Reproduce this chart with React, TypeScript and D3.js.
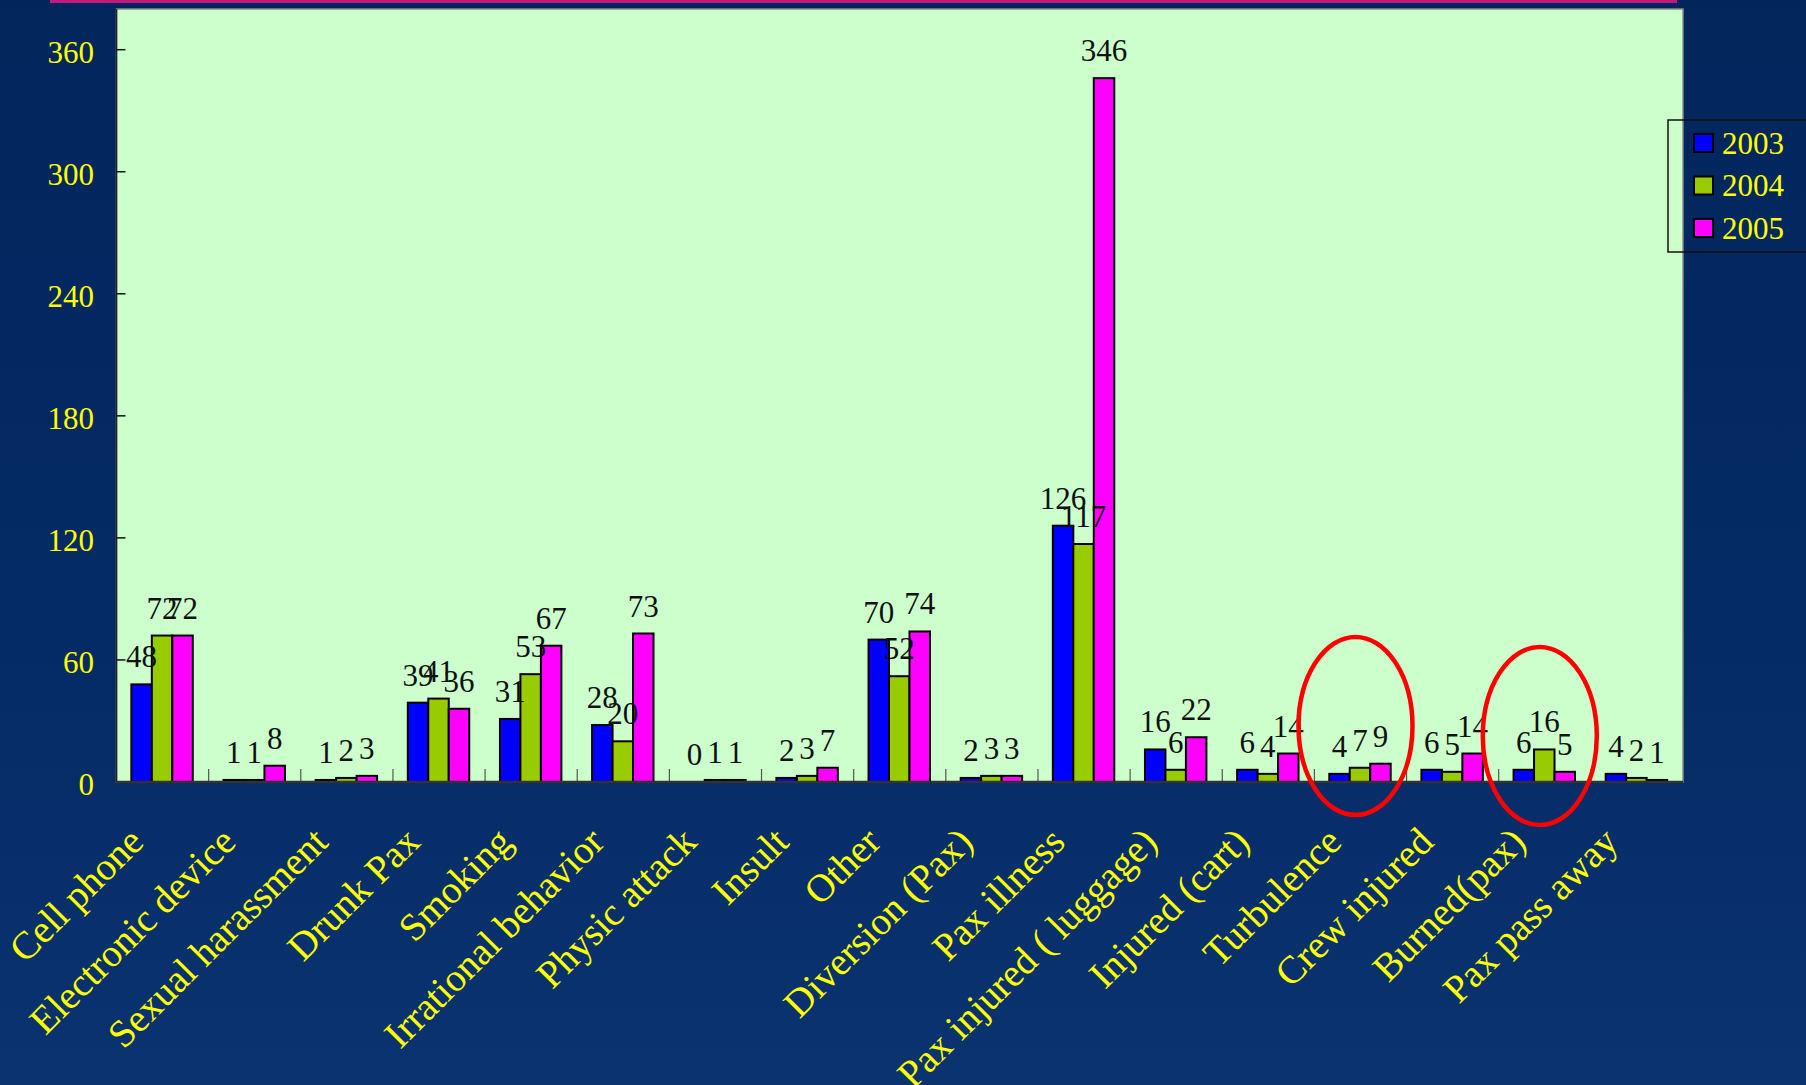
import React from 'react';
import * as d3 from 'd3';

const categories = [
  'Cell phone', 'Electronic device', 'Sexual harassment', 'Drunk Pax', 'Smoking',
  'Irrational behavior', 'Physic attack', 'Insult', 'Other', 'Diversion (Pax)',
  'Pax illness', 'Pax injured ( luggage)', 'Injured (cart)', 'Turbulence',
  'Crew injured', 'Burned(pax)', 'Pax pass away',
];
const years = ['2003', '2004', '2005'];
const values2003 = [48, 1, 1, 39, 31, 28, 0, 2, 70, 2, 126, 16, 6, 4, 6, 6, 4];
const values2004 = [72, 1, 2, 41, 53, 20, 1, 3, 52, 3, 117, 6, 4, 7, 5, 16, 2];
const values2005 = [72, 8, 3, 36, 67, 73, 1, 7, 74, 3, 346, 22, 14, 9, 14, 5, 1];
const yTicks = [0, 60, 120, 180, 240, 300, 360];
const highlighted = ['Turbulence', 'Burned(pax)'];

const seriesColors = ['#0000FF', '#99CC00', '#FF00FF'];

export default function App() {
  const W = 1806, H = 1085;
  const left = 116.5, right = 1683, top = 9, bottom = 782;
  const x = d3.scaleBand<string>().domain(categories).range([left, right]).padding(0);
  const bw = x.bandwidth();
  const barW = bw / 4.5;
  const xs = d3.scaleBand<string>().domain(years).range([bw * 0.75 / 4.5 - 0.5, bw * 0.75 / 4.5 - 0.5 + 3 * barW]).padding(0);
  const y = d3.scaleLinear().domain([0, 380]).range([bottom, top]);
  const series = [values2003, values2004, values2005];
  const serif = '"Liberation Serif", "DejaVu Serif", serif';

  return (
    <svg width={W} height={H} style={{ position: 'absolute', left: 0, top: 0, display: 'block' }} xmlns="http://www.w3.org/2000/svg">
      <defs>
        <linearGradient id="bg" x1="0" y1="0" x2="0" y2="1">
          <stop offset="0" stopColor="#02255c" />
          <stop offset="0.6" stopColor="#052b66" />
          <stop offset="1" stopColor="#0a336f" />
        </linearGradient>
      </defs>
      <rect x={0} y={0} width={W} height={H} fill="url(#bg)" />
      <rect x={50} y={0} width={1627} height={3} fill="#c21a7f" />
      {/* plot area */}
      <rect x={left} y={top} width={right - left} height={bottom - top} fill="#CCFFCC" stroke="#8a8a8a" strokeWidth={1.5} />
      <line x1={left} x2={left} y1={top} y2={bottom} stroke="#222" strokeWidth={1.5} />
      {/* y ticks */}
      {yTicks.map(t => (
        <g key={t}>
          <line x1={left} x2={left + 9} y1={y(t)} y2={y(t)} stroke="#111" strokeWidth={1.5} />
          <text x={94} y={y(t) + 2} dy="0.35em" textAnchor="end" fill="#FFFF00" fontFamily={serif} fontSize={31}>{t}</text>
        </g>
      ))}
      {/* x category ticks */}
      {categories.slice(1).map(c => (
        <line key={c} x1={x(c)!} x2={x(c)!} y1={bottom} y2={bottom - 13} stroke="#555" strokeWidth={1.2} />
      ))}
      {/* bars */}
      {categories.map((c, i) => (
        <g key={c}>
          {series.map((s, k) => (
            <rect key={k} x={x(c)! + xs(years[k])!} y={y(s[i])} width={xs.bandwidth()} height={bottom - y(s[i])}
              fill={seriesColors[k]} stroke="#000" strokeWidth={2} />
          ))}
        </g>
      ))}
      {/* value labels */}
      {categories.map((c, i) => (
        <g key={c}>
          {series.map((s, k) => (
            <text key={k} x={x(c)! + xs(years[k])! + xs.bandwidth() / 2} y={y(s[i]) - 17} textAnchor="middle"
              fill="#111" fontFamily={serif} fontSize={31}>{s[i]}</text>
          ))}
        </g>
      ))}
      <line x1={left} x2={right} y1={bottom} y2={bottom} stroke="#333" strokeWidth={2.5} />
      {/* category labels */}
      {categories.map(c => {
        const ax = x(c)! + bw / 2 - 17;
        const ay = 844;
        return (
          <text key={c} x={ax} y={ay} transform={`rotate(-45 ${ax} ${ay})`} textAnchor="end" fill="#FFFF00"
            fontFamily={serif} fontSize={39}>{c}</text>
        );
      })}
      {/* highlight ellipses */}
      {highlighted.map((c, j) => (
        <ellipse key={c} cx={x(c)! + bw / 2 - 5} cy={bottom - (j === 0 ? 56 : 46)} rx={57} ry={89}
          fill="none" stroke="#FF0000" strokeWidth={4.5} />
      ))}
      {/* legend */}
      <rect x={1668} y={120} width={150} height={132} fill="none" stroke="#111" strokeWidth={1.5} />
      {years.map((yr, k) => (
        <g key={yr}>
          <rect x={1694} y={134 + k * 42.5} width={19} height={18} fill={seriesColors[k]} stroke="#000" strokeWidth={2} />
          <text x={1722} y={143 + k * 42.5} dy="0.35em" fill="#FFFF00" fontFamily={serif} fontSize={31}>{yr}</text>
        </g>
      ))}
    </svg>
  );
}
